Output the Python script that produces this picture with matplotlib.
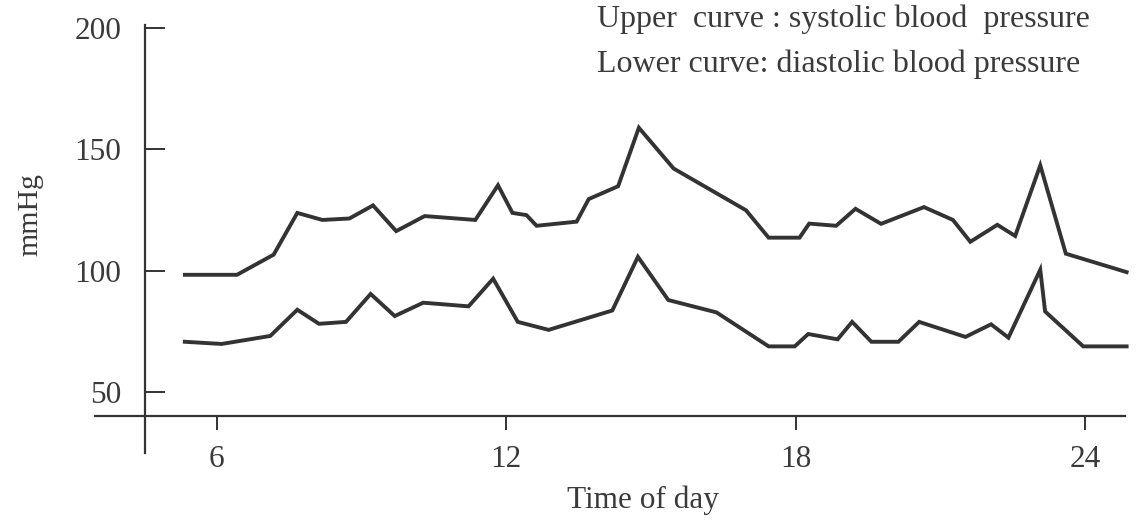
import matplotlib
matplotlib.use('Agg')
from matplotlib import pyplot as plt

plt.rcParams['font.family'] = ['Liberation Serif', 'DejaVu Serif']

#hours of the day where the systolic curve changes direction
sys_hours = [5.34, 6.42, 7.18, 7.67, 8.19, 8.75, 9.24, 9.72, 10.31, 11.36, 11.83,
             12.13, 12.42, 12.63, 13.46, 13.71, 14.32, 14.75, 15.47, 16.97, 17.44,
             18.08, 18.28, 18.84, 19.24, 19.77, 20.66, 21.26, 21.62, 22.18, 22.55,
             23.07, 23.60, 24.86]
sys_mmhg = [98.3, 98.3, 106.6, 123.8, 120.9, 121.5, 126.9, 116.3, 122.5, 120.9, 135.2,
            123.8, 122.9, 118.5, 120.2, 129.5, 134.8, 158.9, 142.1, 124.9, 113.6,
            113.6, 119.4, 118.5, 125.5, 119.3, 126.2, 120.9, 111.9, 118.9, 114.3,
            143.4, 107.0, 99.4]

#same for the diastolic curve
dia_hours = [5.34, 6.10, 7.11, 7.67, 8.12, 8.68, 9.19, 9.69, 10.28, 11.22, 11.73,
             12.24, 12.88, 14.20, 14.73, 15.36, 16.36, 17.44, 17.98, 18.26, 18.87,
             19.17, 19.57, 20.13, 20.56, 21.52, 22.05, 22.41, 23.07, 23.17, 23.96,
             24.86]
dia_mmhg = [70.7, 69.8, 73.1, 83.9, 78.1, 78.9, 90.4, 81.3, 86.8, 85.3, 96.7,
            78.9, 75.6, 83.6, 105.7, 87.9, 82.8, 68.8, 68.8, 73.9, 71.7,
            78.9, 70.7, 70.7, 78.9, 72.7, 77.9, 72.4, 100.4, 83.2, 68.8,
            68.8]

x_ticks = [6, 12, 18, 24]
y_ticks = [50, 100, 150, 200]
note_lines = ['Upper  curve : systolic blood  pressure',
              'Lower curve: diastolic blood pressure']

W, H = 1137, 524
fig = plt.figure(figsize=(W / 100, H / 100), dpi=100)
ax = fig.add_axes([95 / W, 1 - 455 / H, 1035 / W, 435 / H])

line_col = '#333333'
text_col = '#3a3a3a'

ax.plot(sys_hours, sys_mmhg, color=line_col, lw=2.8, solid_joinstyle='miter')
ax.plot(dia_hours, dia_mmhg, color=line_col, lw=2.8, solid_joinstyle='miter')

ax.set_xlim(3.477, 24.93)
ax.set_ylim(24.04, 203.3)

#axes cross each other, like the printed figure
ax.spines['top'].set_visible(False)
ax.spines['right'].set_visible(False)
ax.spines['left'].set_position(('data', 4.514))
ax.spines['left'].set_bounds(24.9, 201.2)
ax.spines['bottom'].set_position(('data', 40.1))
ax.spines['bottom'].set_bounds(3.48, 24.83)
for s in ['left', 'bottom']:
    ax.spines[s].set_color('#333333')
    ax.spines[s].set_linewidth(1.6)

ax.set_xticks(x_ticks)
ax.set_yticks(y_ticks)
ax.tick_params(axis='y', direction='in', length=14.4, width=1.4, pad=17,
               labelsize=22.5, labelcolor=text_col, color='#333333')
ax.tick_params(axis='x', direction='out', length=10, width=1.4, pad=11,
               labelsize=22.5, labelcolor=text_col, color='#333333')

fig.text(643 / W, 1 - 500 / H, 'Time of day', ha='center', va='center',
         fontsize=22.5, color=text_col)
fig.text(30 / W, 1 - 215 / H, 'mmHg', ha='center', va='center', rotation=90,
         fontsize=21.5, color=text_col)
fig.text(597 / W, 1 - 27 / H, note_lines[0], ha='left', va='baseline',
         fontsize=23, color=text_col)
fig.text(597 / W, 1 - 72 / H, note_lines[1], ha='left', va='baseline',
         fontsize=23, color=text_col)

plt.savefig('out.png', dpi=100)
